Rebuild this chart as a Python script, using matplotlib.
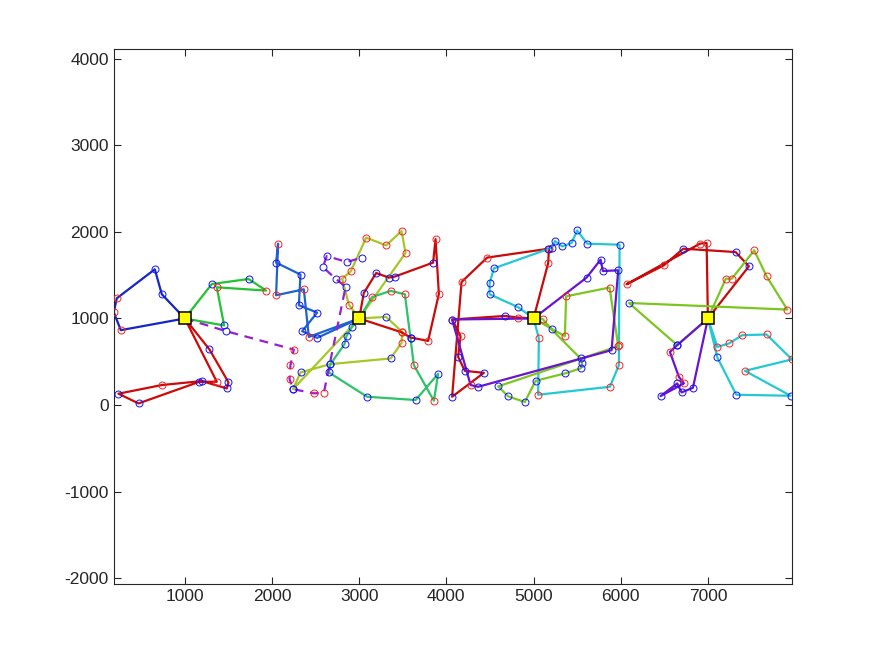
import matplotlib
matplotlib.use("Agg")
import matplotlib.pyplot as plt

# depots
depot_x = [1000, 3000, 5000, 7000]
depot_y = [1000, 1000, 1000, 1000]

# routes: node coords (depot added in code), marker kind per node (r=red, b=blue)
d1_blue_x = [736, 656, 220, 185, 266]
d1_blue_y = [1280, 1568, 1233, 1072, 865]
d1_blue_m = 'bbrrr'

d1_green_x = [1310, 1731, 1933, 1367, 1451]
d1_green_y = [1398, 1456, 1322, 1360, 919]
d1_green_m = 'bbrrb'

d1_red_x = [1283, 1501, 1482, 1195, 736, 239, 469, 1168, 1367]
d1_red_y = [642, 262, 192, 277, 231, 131, 19, 269, 269]
d1_red_m = 'bbbbrbbbr'

dash_x = [1474, 2250, 2212, 2201, 2242, 2480, 2595, 2844, 2729, 2583, 2629, 2858, 3031]
dash_y = [853, 641, 461, 300, 184, 135, 142, 1364, 1460, 1594, 1721, 1652, 1703]
dash_m = 'brrrbrrbbbbbb'

d2_blue_x = [2518, 2346, 2518, 2308, 2327, 2047, 2070, 2047, 2365, 2423]
d2_blue_y = [776, 853, 1068, 1153, 1507, 1645, 1864, 1268, 1337, 787]
d2_blue_m = 'bbbbbbrrrr'

d2_limeA_x = [3532, 3486, 3309, 3080, 2904, 2805, 2881]
d2_limeA_y = [1756, 2009, 1844, 1933, 1545, 1460, 1161]
d2_limeA_m = 'rrrrrrr'

d2_limeB_x = [3309, 3493, 3486, 3360, 2671, 2327, 2242]
d2_limeB_y = [1018, 845, 718, 538, 473, 377, 184]
d2_limeB_m = 'brrbbbb'

d2_green_x = [3149, 3360, 3524, 3589, 3627, 3857, 3906, 3647, 3091, 2652, 2671, 2832, 2855, 2919]
d2_green_y = [1248, 1318, 1280, 769, 461, 50, 361, 58, 96, 377, 473, 703, 799, 903]
d2_green_m = 'rrrbrrbbbbbbbb'

d2_red_x = [3486, 3589, 3791, 3914, 3876, 3848, 3409, 3340, 3195, 3053]
d2_red_y = [841, 780, 741, 1283, 1917, 1645, 1484, 1472, 1525, 1294]
d2_red_m = 'rbrrrbbbbb'

d3_red_x = [4824, 4671, 4066, 4163, 4135, 4212, 4430, 4066, 4174, 4468, 5176, 5168]
d3_red_y = [1011, 1029, 988, 795, 557, 395, 372, 96, 1421, 1703, 1806, 1640]
d3_red_m = 'rbrrbbbbrrrr'

d3_purple_x = [4066, 4278, 4365, 5895, 5971, 5795, 5769, 5608]
d3_purple_y = [988, 231, 211, 634, 1556, 1548, 1679, 1472]
d3_purple_m = 'brbbbbbb'

d3_cyan_x = [4824, 4496, 4496, 4545, 5168, 5214, 5245, 5328, 5436, 5500, 5615, 5987,
             5979, 5979, 5876, 5053, 5061]
d3_cyan_y = [1130, 1279, 1406, 1579, 1802, 1818, 1894, 1833, 1871, 2017, 1864, 1852,
             692, 461, 211, 119, 772]
d3_cyan_m = 'bbbbbbbbbbbbrrrrr'

d3_lime_x = [5107, 5207, 5540, 5558, 5540, 5359, 5023, 4900, 4709, 4594, 5971, 5872, 5374, 5359]
d3_lime_y = [991, 873, 538, 481, 423, 365, 280, 35, 100, 216, 680, 1357, 1256, 795]
d3_lime_m = 'rbbbbbbbbbrrrr'

d4_red_x = [6985, 6908, 6067, 6495, 6717, 7318, 7470]
d4_red_y = [1871, 1864, 1395, 1614, 1806, 1767, 1602]
d4_red_m = 'rrrrbbb'

d4_lime_x = [7206, 7275, 7531, 7673, 7910, 6094, 6648]
d4_lime_y = [1460, 1460, 1787, 1487, 1103, 1179, 692]
d4_lime_m = 'rrrrrbb'

d4_purple_x = [6648, 6564, 6667, 6725, 6457, 6648, 6698, 6828]
d4_purple_y = [692, 614, 326, 250, 104, 250, 146, 199]
d4_purple_m = 'brrrbbbb'

d4_cyan_x = [7108, 7241, 7393, 7673, 7963, 7424, 7949, 7325, 7108]
d4_cyan_y = [672, 711, 807, 815, 527, 395, 107, 119, 550]
d4_cyan_m = 'rrrrrrbbb'

# (xs, ys, markers, depot index, colour)
routes = [
    (d1_blue_x, d1_blue_y, d1_blue_m, 0, '#1426c4'),
    (d1_green_x, d1_green_y, d1_green_m, 0, '#22c232'),
    (d1_red_x, d1_red_y, d1_red_m, 0, '#cc0a0a'),
    (d2_blue_x, d2_blue_y, d2_blue_m, 1, '#1e62d0'),
    (d2_limeA_x, d2_limeA_y, d2_limeA_m, 1, '#a6c826'),
    (d2_limeB_x, d2_limeB_y, d2_limeB_m, 1, '#a6c826'),
    (d2_green_x, d2_green_y, d2_green_m, 1, '#2cc36b'),
    (d2_red_x, d2_red_y, d2_red_m, 1, '#cc0a0a'),
    (d3_red_x, d3_red_y, d3_red_m, 2, '#c80a0a'),
    (d3_cyan_x, d3_cyan_y, d3_cyan_m, 2, '#22c8d2'),
    (d3_lime_x, d3_lime_y, d3_lime_m, 2, '#7cc620'),
    (d3_purple_x, d3_purple_y, d3_purple_m, 2, '#6a14d0'),
    (d4_red_x, d4_red_y, d4_red_m, 3, '#c80a0a'),
    (d4_lime_x, d4_lime_y, d4_lime_m, 3, '#7cc620'),
    (d4_purple_x, d4_purple_y, d4_purple_m, 3, '#6a14d0'),
    (d4_cyan_x, d4_cyan_y, d4_cyan_m, 3, '#22c8d2'),
]

plt.rcParams['font.family'] = ['Liberation Sans', 'DejaVu Sans']
plt.rcParams['axes.unicode_minus'] = False
fig = plt.figure(figsize=(8.75, 6.56), dpi=100)
ax = fig.add_axes([0.13, 0.11, 0.775, 0.815])

for xs, ys, ms, d, col in routes:
    px = [depot_x[d]] + list(xs) + [depot_x[d]]
    py = [depot_y[d]] + list(ys) + [depot_y[d]]
    ax.plot(px, py, '-', color=col, lw=1.6, zorder=2)

# dashed (unused) route
ax.plot([depot_x[0]] + dash_x, [depot_y[0]] + dash_y, '--', color='#9a1ed2',
        lw=1.6, dashes=(4, 3), zorder=2)

allroutes = [(r[0], r[1], r[2]) for r in routes] + [(dash_x, dash_y, dash_m)]
for xs, ys, ms in allroutes:
    for x, y, k in zip(xs, ys, ms):
        ax.plot(x, y, 'o', ms=5, mfc='none', mew=0.7,
                mec='#ff2020' if k == 'r' else '#1010ff', zorder=3)

ax.plot(depot_x, depot_y, 's', ms=8.5, mfc='#ffff00', mec='k', mew=1.1, zorder=4)

ax.set_xlim(185, 7963)
ax.set_ylim(-2065, 4110)
ax.set_xticks(range(1000, 8000, 1000))
ax.set_yticks(range(-2000, 5000, 1000))
ax.tick_params(direction='in', top=True, right=True, length=5, width=0.8,
               labelsize=12.5, colors='#262626')
for s in ax.spines.values():
    s.set_color('#262626')
    s.set_linewidth(0.8)

fig.savefig('out.png', dpi=100)
